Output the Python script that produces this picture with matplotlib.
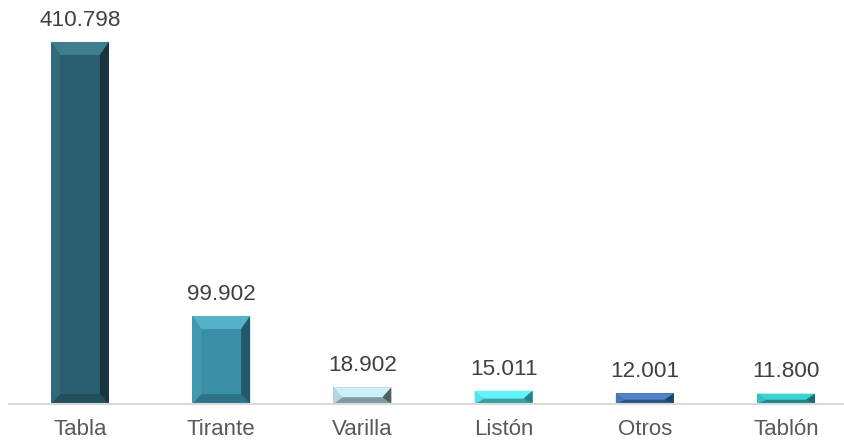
import matplotlib
matplotlib.use("Agg")
import matplotlib.pyplot as plt
from matplotlib.patches import Polygon
import numpy as np

categories = ["Tabla", "Tirante", "Varilla", "Listón", "Otros", "Tablón"]
values = [410.798, 99.902, 18.902, 15.011, 12.001, 11.800]
labels = ["410.798", "99.902", "18.902", "15.011", "12.001", "11.800"]

# body, top bevel, left bevel, right bevel, bottom bevel
colors_body = ["#2B5E6E", "#3A8FA7", "#A6CAD5", "#4DD3D8", "#3F6CA9", "#2AB6B6"]
colors_top = ["#3E7E8F", "#55B2CA", "#CDEFF6", "#62F4F8", "#5284C6", "#3AD3D2"]
colors_left = ["#316A7A", "#4199B1", "#B5D6DF", "#58E0E4", "#4675B4", "#30C0C0"]
colors_right = ["#17363F", "#21596A", "#4A6068", "#2B8084", "#22406A", "#176E6E"]
colors_bottom = ["#234E5B", "#2E7285", "#7F9AA3", "#3B9EA2", "#2F5185", "#1F8787"]

W, H, DPI = 844, 441, 100
fig = plt.figure(figsize=(W / DPI, H / DPI), dpi=DPI)
fig.patch.set_facecolor("white")

left_px, right_px = 9.4, 856.6
base_px, top_px = 404, 7.4
ax = fig.add_axes([left_px / W, (H - base_px) / H, (right_px - left_px) / W, (base_px - top_px) / H])
ax.set_xlim(-0.5, len(categories) - 0.5)
ax.set_ylim(0, 450)
ax.set_facecolor("none")

x = np.arange(len(categories))
bw = 0.41
bars = ax.bar(x, values, width=bw, color=colors_body, zorder=2, linewidth=0)

px_x = (right_px - left_px) / (len(categories))
px_y = (base_px - top_px) / 450.0
side_px, top_bev_px, bot_bev_px = 9.0, 13.0, 10.0
for i, b in enumerate(bars):
    x0 = b.get_x()
    x1 = x0 + b.get_width()
    h = b.get_height()
    hp = h * px_y
    bx_s = side_px / px_x
    by_top = min(top_bev_px, hp * 0.6) / px_y
    by_bot = min(bot_bev_px, hp * 0.4) / px_y
    ax.add_patch(Polygon([(x0, h), (x1, h), (x1 - bx_s, h - by_top), (x0 + bx_s, h - by_top)],
                         closed=True, color=colors_top[i], lw=0, zorder=3))
    ax.add_patch(Polygon([(x0, 0), (x1, 0), (x1 - bx_s, by_bot), (x0 + bx_s, by_bot)],
                         closed=True, color=colors_bottom[i], lw=0, zorder=3))
    ax.add_patch(Polygon([(x0, 0), (x0, h), (x0 + bx_s, h - by_top), (x0 + bx_s, by_bot)],
                         closed=True, color=colors_left[i], lw=0, zorder=3))
    ax.add_patch(Polygon([(x1, 0), (x1, h), (x1 - bx_s, h - by_top), (x1 - bx_s, by_bot)],
                         closed=True, color=colors_right[i], lw=0, zorder=3))

for xi, v, lab in zip(x, values, labels):
    ax.annotate(lab, (xi, v), xytext=(0, 8.0), textcoords="offset points",
                ha="center", va="bottom", fontsize=16.2, color="#404040",
                family="Liberation Sans")

ax.set_xticks(x)
ax.set_xticklabels(categories, fontsize=16.0, color="#595959", family="Liberation Sans")
ax.tick_params(axis="x", length=0, pad=10.5)
ax.set_yticks([])
for s in ["top", "left", "right"]:
    ax.spines[s].set_visible(False)
ax.spines["bottom"].set_color("#D9D9D9")
ax.spines["bottom"].set_linewidth(1.5)
ax.spines["bottom"].set_zorder(4)

fig.savefig("out.png", dpi=DPI, facecolor="white")
